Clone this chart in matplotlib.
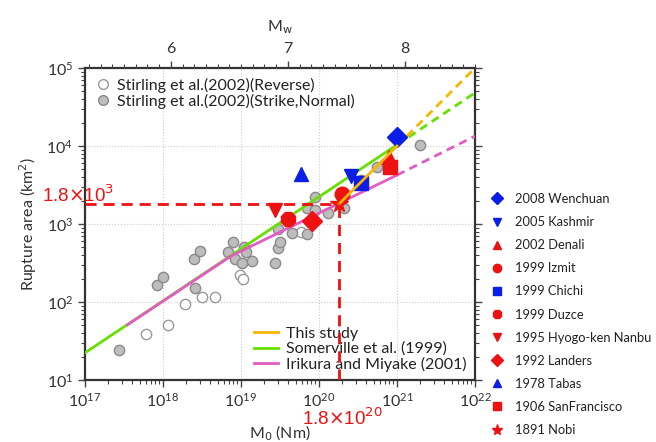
import numpy as np
import matplotlib.pyplot as plt
from matplotlib.lines import Line2D
from matplotlib.ticker import LogLocator, NullFormatter, MultipleLocator

plt.rcParams['font.family'] = ['Lato', 'DejaVu Sans']

# Stirling et al. (2002) data, M0 (Nm) and rupture area (km2)
strike_m0 = [2.7e17, 8.5e17, 1.0e18, 2.5e18, 2.95e18, 2.6e18, 7.8e18, 6.9e18, 8.5e18,
             1.1e19, 1.02e19, 1.4e19, 1.17e19, 2.7e19, 3.0e19, 3.2e19, 3.0e19, 4.5e19,
             7.1e19, 7.6e19, 7.1e19, 8.9e19, 8.9e19, 1.3e20, 2.1e20, 3.5e20, 5.6e20, 2.0e21]
strike_area = [24, 166, 209, 355, 457, 151, 589, 437, 355,
               513, 316, 339, 437, 316, 490, 589, 871, 776,
               741, 1070, 1620, 1510, 2190, 1380, 1620, 3630, 5370, 10200]
reverse_m0 = [6.0e17, 1.15e18, 1.9e18, 3.2e18, 4.7e18, 9.8e18, 1.07e19, 5.8e19]
reverse_area = [39, 50, 93, 115, 115, 224, 195, 794]

# scaling relations
som_m0 = [1e17, 1e21]
som_area = [22.3, 10350]
som_ext_m0 = [1e21, 1e22]
som_ext_area = [10350, 48000]
iri_m0 = [3.5e17, 7.5e18, 1e21]
iri_area = [51, 390, 4240]
iri_ext_m0 = [1e21, 1e22]
iri_ext_area = [4240, 13400]
this_m0 = [1.8e20, 1e21]
this_area = [1800, 1e4]
this_ext_m0 = [1e21, 1e22]
this_ext_area = [1e4, 1e5]

# large earthquakes
events = ['2008 Wenchuan', '2005 Kashmir', '2002 Denali', '1999 Izmit', '1999 Chichi',
          '1999 Duzce', '1995 Hyogo-ken Nanbu', '1992 Landers', '1978 Tabas',
          '1906 SanFrancisco', '1891 Nobi']
event_m0 = [1.0e21, 2.6e20, 7.8e20, 2.0e20, 3.5e20, 4.0e19, 2.75e19, 8.1e19, 5.8e19, 8.1e20, 1.8e20]
event_area = [12900, 4170, 7240, 2450, 3310, 1150, 1510, 1100, 4370, 5370, 1780]
event_marker = ['D', 'v', '^', 'o', 's', '8', 'v', 'D', '^', 's', '*']
event_color = ['#0a1ee8', '#0a1ee8', '#ee1111', '#ee1111', '#0a1ee8', '#ee1111', '#ee1111',
               '#ee1111', '#0a1ee8', '#ee1111', '#ee1111']

ref_m0 = 1.8e20
ref_area = 1.8e3

yellow = '#f7b500'
green = '#66e000'
magenta = '#e25cc4'
red = '#ee1111'

fig = plt.figure(figsize=(6.56, 4.42), dpi=100)
ax = fig.add_axes([85/656, 1-380/442, 390/656, 312/442])
ax.set_xscale('log')
ax.set_yscale('log')
ax.set_xlim(1e17, 1e22)
ax.set_ylim(1e1, 1e5)

ax.grid(True, which='major', color='#cccccc', linestyle=':', linewidth=0.8)

ax.scatter(reverse_m0, reverse_area, s=55, facecolor='white', edgecolor='#999999', linewidth=1.0, zorder=3)
ax.scatter(strike_m0, strike_area, s=55, facecolor='#bdbdbd', edgecolor='#8a8a8a', linewidth=1.0, zorder=3)

ax.plot(som_m0, som_area, color=green, lw=2, zorder=4)
ax.plot(som_ext_m0, som_ext_area, color=green, lw=2, ls=(0, (3, 2)), zorder=4)
ax.plot(iri_m0, iri_area, color=magenta, lw=2, zorder=4)
ax.plot(iri_ext_m0, iri_ext_area, color=magenta, lw=2, ls=(0, (3, 2)), zorder=4)
ax.plot(this_m0, this_area, color=yellow, lw=2, zorder=6)
ax.plot(this_ext_m0, this_ext_area, color=yellow, lw=2, ls=(0, (3, 2)), zorder=4)

for m0, a, mk, c in zip(event_m0, event_area, event_marker, event_color):
    size = 13 if mk == '*' else 10.5
    ax.plot(m0, a, marker=mk, color=c, markersize=size, linestyle='none', zorder=5)

# reference lines at 1.8x10^20 Nm and 1.8x10^3 km2
ax.plot([1e17, ref_m0], [ref_area, ref_area], color=red, lw=2, ls=(0, (4, 2.5)), zorder=7)
ax.plot([ref_m0, ref_m0], [1e1, ref_area], color=red, lw=2, ls=(0, (4, 2.5)), zorder=7)
fig.text(42/656, 1-202/442, r'1.8$\times$10$^3$', color=red, fontsize=13.5,
         family='Liberation Sans', va='baseline', ha='left')
fig.text(302/656, 1-425/442, r'1.8$\times$10$^{20}$', color=red, fontsize=13.5,
         family='Liberation Sans', va='baseline', ha='left')

# axes style
for sp in ax.spines.values():
    sp.set_linewidth(1.6)
    sp.set_color('#333333')
ax.tick_params(which='both', direction='out', color='#444444', labelsize=11.5, labelcolor='#333333')
ax.tick_params(which='major', length=5, width=1)
ax.tick_params(which='minor', length=3, width=0.8)
ax.tick_params(axis='y', which='both', right=True)
ax.xaxis.set_major_locator(LogLocator(base=10, numticks=10))
ax.xaxis.set_minor_locator(LogLocator(base=10, subs=np.arange(2, 10), numticks=20))
ax.xaxis.set_minor_formatter(NullFormatter())
ax.yaxis.set_minor_locator(LogLocator(base=10, subs=np.arange(2, 10), numticks=20))
ax.yaxis.set_minor_formatter(NullFormatter())
ax.set_xlabel(r'M$_0$ (Nm)', fontsize=11.5, color='#333333', labelpad=10)
ax.set_ylabel(r'Rupture area (km$^2$)', fontsize=11.5, color='#333333', labelpad=5)

# Mw axis on top
top = ax.twiny()
top.set_xlim((17 - 9.1) / 1.5, (22 - 9.1) / 1.5)
top.set_xticks([6, 7, 8])
top.xaxis.set_minor_locator(MultipleLocator(0.1))
top.tick_params(which='both', direction='out', color='#444444', labelsize=11.5, labelcolor='#333333')
top.tick_params(which='major', length=5, width=1)
top.tick_params(which='minor', length=3, width=0.8)
top.set_xlabel(r'M$_\mathrm{w}$', fontsize=11.5, color='#333333', labelpad=8)
for sp in top.spines.values():
    sp.set_visible(False)

# legends
h1 = [Line2D([], [], marker='o', ls='none', markersize=7, markerfacecolor='white', markeredgecolor='#999999'),
      Line2D([], [], marker='o', ls='none', markersize=7, markerfacecolor='#bdbdbd', markeredgecolor='#8a8a8a')]
leg1 = ax.legend(h1, ['Stirling et al.(2002)(Reverse)', 'Stirling et al.(2002)(Strike,Normal)'],
                 loc='upper left', frameon=False, fontsize=11.5, handletextpad=0.3,
                 labelspacing=0.05, borderaxespad=0.2, handlelength=1.1, labelcolor='#222222')
ax.add_artist(leg1)
h2 = [Line2D([], [], color=yellow, lw=2), Line2D([], [], color=green, lw=2), Line2D([], [], color=magenta, lw=2)]
leg2 = ax.legend(h2, ['This study', 'Somerville et al. (1999)', 'Irikura and Miyake (2001)'],
                 loc='lower right', frameon=False, fontsize=11.5, handletextpad=0.55,
                 labelspacing=0.05, borderaxespad=0.1, handlelength=1.45, labelcolor='#222222')

h3 = [Line2D([], [], marker=mk, color=c, ls='none', markersize=8 if mk == '*' else 6)
      for mk, c in zip(event_marker, event_color)]
fig.legend(h3, events, loc='upper left', bbox_to_anchor=(492/656, 1-193/442), frameon=False,
           fontsize=9.3, handletextpad=1.0, labelspacing=0.86, handlelength=0.8,
           borderpad=0, borderaxespad=0, labelcolor='#222222')

fig.savefig('out.png', dpi=100)
